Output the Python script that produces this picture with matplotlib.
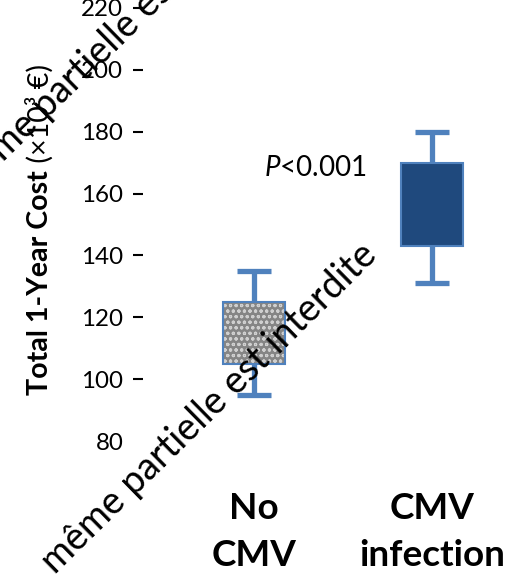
import matplotlib
matplotlib.use("Agg")
import matplotlib.pyplot as plt

plt.rcParams['font.family'] = ['Lato', 'DejaVu Sans']
plt.rcParams['mathtext.fontset'] = 'custom'
plt.rcParams['mathtext.rm'] = 'Lato'
plt.rcParams['mathtext.it'] = 'Lato:italic'
plt.rcParams['hatch.linewidth'] = 0.8

# donnees (x10^3 EUR)
groupes = ['No\nCMV', 'CMV\ninfection']
positions = [1, 2]
moustache_bas = [95, 131]
q1 = [105, 143]
q3 = [125, 170]
moustache_haut = [135, 180]
yticks = [80, 100, 120, 140, 160, 180, 200, 220]

bleu_clair = '#4f81bd'
bleu_fonce = '#1f497d'
largeur = 0.35
cap = 0.19

fig = plt.figure(figsize=(5.24, 5.74), dpi=100)
ax = fig.add_axes([0.2729, 0.2317, 0.7271, 0.7544])

# moustaches
ax.vlines(positions, moustache_bas, q1, color=bleu_clair, lw=3.8, zorder=1)
ax.vlines(positions, q3, moustache_haut, color=bleu_clair, lw=3.8, zorder=1)
for p, lo, hi in zip(positions, moustache_bas, moustache_haut):
    ax.hlines([lo, hi], p - cap / 2, p + cap / 2, color=bleu_clair, lw=3.8, zorder=1)

hauteurs = [b - a for a, b in zip(q1, q3)]
# boite "No CMV" : motif gris
ax.bar(positions[0], hauteurs[0], bottom=q1[0], width=largeur,
       color='#858585', edgecolor='#cfcfcf', hatch='ooo', lw=0, zorder=2)
ax.bar(positions[0], hauteurs[0], bottom=q1[0], width=largeur,
       facecolor='none', edgecolor=bleu_clair, lw=1.5, zorder=3)
# boite "CMV infection"
ax.bar(positions[1], hauteurs[1], bottom=q1[1], width=largeur,
       color=bleu_fonce, edgecolor=bleu_clair, lw=1.5, zorder=3)

ax.set_xlim(0.376, 2.516)
ax.set_ylim(80, 220)
ax.set_yticks(yticks)
ax.set_yticklabels([str(v) for v in yticks])
ax.set_xticks(positions)
ax.set_xticklabels(groupes, fontweight='bold', linespacing=1.5)
ax.tick_params(axis='y', length=7.2, width=1.5, pad=7, labelsize=18)
ax.tick_params(axis='x', length=0, pad=37, labelsize=26)
ax.yaxis.get_major_ticks()[0].tick1line.set_visible(False)
for s in ax.spines.values():
    s.set_visible(False)

# titre de l'axe y : partie en gras + partie normale
lab = fig.text(40 / 524, 1 - 395 / 574, 'Total 1-Year Cost', rotation=90,
               fontsize=17, fontweight='bold', ha='center', va='bottom')
lab2 = ax.annotate(' (×10³ €)', xy=(0.5, 1), xycoords=lab, rotation=90,
                   fontsize=17, ha='center', va='bottom', annotation_clip=False)

ptxt = ax.text(1.342, 165.7, r'$\mathit{P}$<0.001', fontsize=18,
               ha='center', va='baseline')

# filigrane
filigrane = 'même partielle est interdite'
wm = []
for x0, y0 in [(-33, 198), (55, 575)]:
    wm.append(fig.text(x0 / 524, 1 - y0 / 574, filigrane, rotation=0,
                       rotation_mode='anchor', ha='left', va='baseline',
                       fontsize=24, color='black', zorder=10))

# ajuste les tailles de police sur les largeurs
fig.canvas.draw()
r = fig.canvas.get_renderer()

t160 = [t for t in ax.get_yticklabels() if t.get_text() == '160'][0]
ax.tick_params(axis='y', labelsize=18 * 42 / t160.get_window_extent(r).width)
tx = ax.get_xticklabels()[1]
ax.tick_params(axis='x', labelsize=26 * 146 / tx.get_window_extent(r).width)
ptxt.set_fontsize(18 * 103 / ptxt.get_window_extent(r).width)
h = lab.get_window_extent(r).height + lab2.get_window_extent(r).height
lab.set_fontsize(17 * 332 / h)
lab2.set_fontsize(17 * 332 / h)
k = 455 / wm[0].get_window_extent(r).width
for t in wm:
    t.set_fontsize(24 * k)
    t.set_rotation(44.5)

fig.savefig('out.png', dpi=100)
